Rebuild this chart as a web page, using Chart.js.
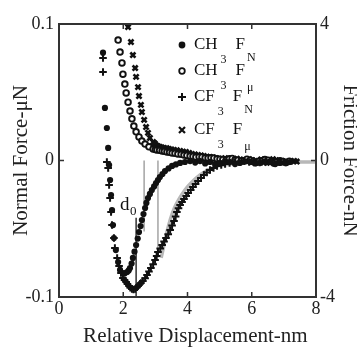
<!DOCTYPE html>
<html>
<head>
<meta charset="utf-8">
<script src="https://cdn.jsdelivr.net/npm/chart.js@4.4.1/dist/chart.umd.min.js"></script>
<style>
  body { margin: 0; background: #fff; }
  canvas { display: block; }
</style>
</head>
<body>
<canvas id="forceChart" width="357" height="347"></canvas>
<script>
// CH3 normal force (filled circles), left axis, µN
const ch3NormalX = [1.37, 1.43, 1.49, 1.53, 1.56, 1.59, 1.62, 1.65, 1.68, 1.71, 1.77, 1.84, 1.90, 1.99, 2.05,
  2.12, 2.17, 2.21, 2.26, 2.30, 2.35, 2.40, 2.45, 2.49, 2.54, 2.58, 2.63, 2.68, 2.72, 2.77, 2.83, 2.89, 2.96,
  3.02, 3.08, 3.14, 3.22, 3.30, 3.41, 3.52, 3.64, 3.77, 3.92, 4.08, 4.24, 4.39, 4.55, 4.70, 4.86, 5.01, 5.17,
  5.32, 5.48, 5.63, 5.79, 5.95, 6.10, 6.26, 6.42, 6.57, 6.73, 6.88, 7.04, 7.19];
const ch3NormalY = [0.079, 0.0385, 0.0238, 0.0092, -0.0033, -0.0143, -0.0253, -0.0363, -0.0473, -0.0568, -0.0656,
  -0.0744, -0.0802, -0.0824, -0.0826, -0.0817, -0.0805, -0.0788, -0.0755, -0.0714, -0.0668, -0.0619, -0.0572,
  -0.0524, -0.048, -0.0436, -0.0392, -0.0348, -0.0311, -0.0275, -0.0245, -0.0216, -0.019, -0.0165, -0.0143,
  -0.0121, -0.0099, -0.0077, -0.0058, -0.004, -0.0029, -0.0018, -0.0011, -0.0004, -0.0015, -0.0004, -0.0022,
  -0.0011, -0.0026, -0.0018, -0.0007, -0.0011, -0.0026, -0.0018, -0.0007, -0.0011, -0.0022, -0.0018, -0.0007,
  -0.0011, -0.0026, -0.0018, -0.0011, -0.0011];

// CF3 normal force (+), left axis, µN
const cf3NormalX = [1.37, 1.37, 1.49, 1.53, 1.56, 1.59, 1.62, 1.65, 1.71, 1.74, 1.81, 1.87, 1.93, 1.99, 2.04, 2.09,
  2.13, 2.18, 2.22, 2.27, 2.32, 2.37, 2.43, 2.49, 2.55, 2.61, 2.68, 2.74, 2.80, 2.86, 2.93, 2.99, 3.04, 3.08,
  3.15, 3.21, 3.27, 3.33, 3.40, 3.46, 3.52, 3.58, 3.63, 3.67, 3.72, 3.77, 3.83, 3.89, 3.96, 4.02, 4.10, 4.17,
  4.25, 4.33, 4.42, 4.51, 4.60, 4.70, 4.81, 4.92, 5.05, 5.17, 5.31, 5.45, 5.60, 5.76, 5.92, 6.07, 6.25, 6.45,
  6.65, 6.85, 7.05];
const cf3NormalY = [0.0751, 0.0648, -0.0011, -0.0055, -0.0179, -0.0275, -0.0377, -0.0473, -0.0568, -0.0641, -0.0714,
  -0.0773, -0.0824, -0.0861, -0.0876, -0.089, -0.0905, -0.0919, -0.0932, -0.0941, -0.0945, -0.0941, -0.0928,
  -0.0912, -0.0898, -0.0883, -0.0862, -0.0839, -0.0814, -0.0788, -0.076, -0.0729, -0.07, -0.067, -0.0645,
  -0.0619, -0.0594, -0.0568, -0.054, -0.0509, -0.0476, -0.0443, -0.041, -0.0377, -0.035, -0.0326, -0.0304,
  -0.0282, -0.026, -0.0238, -0.0216, -0.0194, -0.0172, -0.015, -0.0128, -0.0106, -0.0088, -0.007, -0.0055,
  -0.004, -0.0033, -0.0026, -0.0018, -0.0011, -0.0007, -0.0004, -0.0011, -0.0004, -0.0015, -0.0008, -0.0015,
  -0.0008, -0.0015];

// CH3 friction force (open circles), right axis, nN
const ch3FrictionX = [1.84, 1.90, 1.96, 1.99, 2.05, 2.09, 2.15, 2.21, 2.27, 2.33, 2.40, 2.49, 2.58, 2.68, 2.80, 2.93,
  3.00, 3.05, 3.13, 3.21, 3.28, 3.36, 3.44, 3.52, 3.61, 3.70, 3.80, 3.89, 3.98, 4.08, 4.17, 4.26, 4.36, 4.45,
  4.55, 4.64, 4.73, 4.82, 4.92, 5.01, 5.10, 5.20, 5.30, 5.39, 5.48, 5.57, 5.67, 5.76, 5.85, 5.95, 6.04, 6.13,
  6.23, 6.32, 6.41, 6.51, 6.60, 6.69, 6.79, 6.88, 6.97, 7.07, 7.17];
const ch3FrictionY = [3.53, 3.18, 2.86, 2.53, 2.24, 1.98, 1.71, 1.45, 1.22, 1.01, 0.84, 0.69, 0.57, 0.48, 0.40, 0.34,
  0.32, 0.31, 0.30, 0.28, 0.27, 0.25, 0.24, 0.22, 0.21, 0.19, 0.18, 0.16, 0.15, 0.13, 0.12, 0.10, 0.11, 0.10,
  0.08, 0.07, 0.08, 0.07, 0.05, 0.04, 0.03, 0.01, 0.05, 0.06, 0.02, 0.01, -0.02, -0.01, 0.04, 0.01, -0.03,
  -0.06, -0.02, -0.01, 0.03, 0.01, -0.03, -0.07, -0.04, -0.01, -0.03, -0.06, -0.02];

// CF3 friction force (x), right axis, nN
const cf3FrictionX = [2.15, 2.24, 2.30, 2.37, 2.40, 2.46, 2.49, 2.55, 2.58, 2.65, 2.71, 2.77, 2.83, 2.93, 2.98, 3.02,
  3.08, 3.14, 3.20, 3.27, 3.35, 3.42, 3.50, 3.58, 3.67, 3.77, 3.86, 3.95, 4.05, 4.14, 4.23, 4.33, 4.42, 4.51,
  4.60, 4.70, 4.79, 4.89, 4.98, 5.07, 5.17, 5.26, 5.35, 5.45, 5.54, 5.64, 5.73, 5.82, 5.92, 6.01, 6.10, 6.19,
  6.29, 6.38, 6.47, 6.57, 6.66, 6.75, 6.85, 6.94, 7.03, 7.13, 7.22, 7.32, 7.40];
const cf3FrictionY = [3.91, 3.47, 3.09, 2.71, 2.45, 2.15, 1.89, 1.63, 1.42, 1.19, 0.98, 0.81, 0.66, 0.54, 0.50, 0.45,
  0.42, 0.40, 0.38, 0.37, 0.36, 0.34, 0.32, 0.31, 0.30, 0.28, 0.26, 0.25, 0.22, 0.19, 0.18, 0.16, 0.15, 0.13,
  0.11, 0.10, 0.09, 0.07, 0.05, 0.04, 0.07, 0.04, 0.02, 0.01, 0.05, 0.03, -0.02, -0.01, 0.04, 0.01, -0.04,
  -0.01, 0.03, -0.05, -0.07, -0.01, 0.04, 0.01, -0.04, -0.01, -0.06, -0.04, -0.02, -0.01, -0.03];

// gray model curve, left axis
const fitX = [3.18, 3.27, 3.36, 3.46, 3.58, 3.74, 3.92, 4.14, 4.39, 4.64, 4.95, 5.32, 5.79, 6.41, 8.0];
const fitY = [-0.0714, -0.0619, -0.0524, -0.0436, -0.0355, -0.0282, -0.0216, -0.0158, -0.0106, -0.007, -0.004,
  -0.0026, -0.0011, -0.0011, -0.0011];

// gray jump markers and d0 marker
const jumpX = [2.65, 3.08];
const jumpDepth = [-0.052, -0.071];
const d0X = 2.40;
const d0Range = [-0.042, -0.1];

const xTicks = [0, 2, 4, 6, 8];
const innerTicksX = [2, 4, 6];

const legendRows = [
  { base: 'CH', sub: '3', force: 'F', fsub: 'N', style: 'dot' },
  { base: 'CH', sub: '3', force: 'F', fsub: 'μ', style: 'ring' },
  { base: 'CF', sub: '3', force: 'F', fsub: 'N', style: 'plus' },
  { base: 'CF', sub: '3', force: 'F', fsub: 'μ', style: 'cross' }
];

const serif = '"Liberation Serif", "DejaVu Serif", serif';
const ink = '#111';

const pts = (xs, ys) => xs.map((x, i) => ({ x: x, y: ys[i] }));

function drawMarker(ctx, style, x, y) {
  ctx.save();
  ctx.strokeStyle = ink;
  ctx.fillStyle = ink;
  ctx.beginPath();
  if (style === 'dot') {
    ctx.arc(x, y, 3.4, 0, Math.PI * 2);
    ctx.fill();
  } else if (style === 'ring') {
    ctx.lineWidth = 1.8;
    ctx.arc(x, y, 2.8, 0, Math.PI * 2);
    ctx.stroke();
  } else if (style === 'plus') {
    ctx.lineWidth = 2;
    ctx.moveTo(x - 4, y); ctx.lineTo(x + 4, y);
    ctx.moveTo(x, y - 4); ctx.lineTo(x, y + 4);
    ctx.stroke();
  } else {
    ctx.lineWidth = 2.2;
    ctx.moveTo(x - 3, y - 3); ctx.lineTo(x + 3, y + 3);
    ctx.moveTo(x + 3, y - 3); ctx.lineTo(x - 3, y + 3);
    ctx.stroke();
  }
  ctx.restore();
}

const framePlugin = {
  id: 'frame',
  afterDatasetsDraw(chart) {
    const { ctx, chartArea: a, scales } = chart;
    ctx.save();
    // box
    ctx.strokeStyle = '#333';
    ctx.lineWidth = 2;
    ctx.strokeRect(a.left, a.top, a.right - a.left, a.bottom - a.top);
    // inward ticks
    ctx.lineWidth = 1.5;
    ctx.beginPath();
    innerTicksX.forEach(v => {
      const px = scales.x.getPixelForValue(v);
      ctx.moveTo(px, a.bottom); ctx.lineTo(px, a.bottom - 5);
      ctx.moveTo(px, a.top); ctx.lineTo(px, a.top + 5);
    });
    const zy = scales.y.getPixelForValue(0);
    ctx.moveTo(a.left, zy); ctx.lineTo(a.left + 5, zy);
    ctx.moveTo(a.right, zy); ctx.lineTo(a.right - 5, zy);
    ctx.stroke();

    // d0 label
    ctx.fillStyle = ink;
    ctx.textBaseline = 'middle';
    const lx = scales.x.getPixelForValue(1.9);
    const ly = scales.y.getPixelForValue(-0.0326);
    ctx.font = '19px ' + serif;
    ctx.fillText('d', lx, ly);
    ctx.font = '13px ' + serif;
    ctx.fillText('0', lx + 10, ly + 7);

    // legend
    const rowY = [45, 71, 97, 130];
    legendRows.forEach((r, i) => {
      const y = rowY[i];
      drawMarker(ctx, r.style, 182, y);
      ctx.fillStyle = ink;
      ctx.font = '17px ' + serif;
      const x0 = 194;
      ctx.fillText(r.base, x0, y);
      const w = ctx.measureText(r.base).width;
      const sx = x0 + w + 3;
      ctx.font = '12px ' + serif;
      ctx.fillText(r.sub, sx, y + 15);
      const fx = sx + 15;
      ctx.font = '17px ' + serif;
      ctx.fillText(r.force, fx, y);
      const fw = ctx.measureText(r.force).width;
      ctx.font = '12px ' + serif;
      ctx.fillText(r.fsub, fx + fw + 2, y + (r.fsub === 'N' ? 13 : 17));
    });
    ctx.restore();
  }
};

const ctx = document.getElementById('forceChart').getContext('2d');

const tickFont = { family: serif, size: 18 };
const titleFont = { family: serif, size: 21, lineHeight: 1 };

new Chart(ctx, {
  type: 'scatter',
  data: {
    datasets: [
      {
        data: pts(ch3NormalX, ch3NormalY), yAxisID: 'y',
        pointStyle: 'circle', pointRadius: 3.1, pointBackgroundColor: ink, pointBorderColor: ink, borderWidth: 0
      },
      {
        data: pts(cf3NormalX, cf3NormalY), yAxisID: 'y',
        pointStyle: 'cross', pointRadius: 3.8, pointBorderColor: ink, pointBorderWidth: 2
      },
      {
        data: pts(ch3FrictionX, ch3FrictionY), yAxisID: 'y2',
        pointStyle: 'circle', pointRadius: 2.8, pointBackgroundColor: '#fff', pointBorderColor: ink, pointBorderWidth: 1.9
      },
      {
        data: pts(cf3FrictionX, cf3FrictionY), yAxisID: 'y2',
        pointStyle: 'crossRot', pointRadius: 3.6, pointBorderColor: ink, pointBorderWidth: 2.6
      },
      {
        data: pts([d0X, d0X], d0Range), yAxisID: 'y', order: 4,
        showLine: true, borderColor: ink, borderWidth: 1.3, pointRadius: 0
      },
      {
        data: pts([jumpX[0], jumpX[0]], [0, jumpDepth[0]]), yAxisID: 'y', order: 5,
        showLine: true, borderColor: '#aaa', borderWidth: 1.6, pointRadius: 0
      },
      {
        data: pts([jumpX[1], jumpX[1]], [0, jumpDepth[1]]), yAxisID: 'y', order: 5,
        showLine: true, borderColor: '#aaa', borderWidth: 1.6, pointRadius: 0
      },
      {
        data: pts(fitX, fitY), yAxisID: 'y', order: 6,
        showLine: true, borderColor: '#b8b8b8', borderWidth: 3.5, pointRadius: 0, tension: 0.3
      }
    ]
  },
  options: {
    responsive: false,
    animation: false,
    clip: false,
    layout: { padding: { top: 24, left: 0, right: 0, bottom: 0 } },
    plugins: { legend: { display: false }, tooltip: { enabled: false } },
    scales: {
      x: {
        type: 'linear', min: 0, max: 8,
        afterBuildTicks: s => { s.ticks = xTicks.map(v => ({ value: v })); },
        ticks: { font: tickFont, color: '#222', padding: 1, maxRotation: 0 },
        grid: { display: false, drawTicks: false },
        border: { display: false },
        title: { display: true, text: '   Relative Displacement-nm', font: titleFont, color: '#222', padding: { top: 0, bottom: 0 } },
        afterFit: s => { s.height = 50; }
      },
      y: {
        position: 'left', min: -0.1, max: 0.1,
        ticks: { stepSize: 0.1, font: tickFont, color: '#222', padding: 5 },
        grid: { display: false, drawTicks: false },
        border: { display: false },
        title: { display: true, text: 'Normal Force-μN', font: titleFont, color: '#222', padding: { top: 11, bottom: 0 } },
        afterFit: s => { s.width = 59; }
      },
      y2: {
        position: 'right', min: -4, max: 4,
        ticks: { stepSize: 4, font: tickFont, color: '#222', padding: 4 },
        grid: { display: false, drawTicks: false },
        border: { display: false },
        title: { display: true, text: 'Friction Force-nN', font: titleFont, color: '#222', padding: { top: -3, bottom: 0 } },
        afterFit: s => { s.width = 41; }
      }
    }
  },
  plugins: [framePlugin]
});
</script>
</body>
</html>
